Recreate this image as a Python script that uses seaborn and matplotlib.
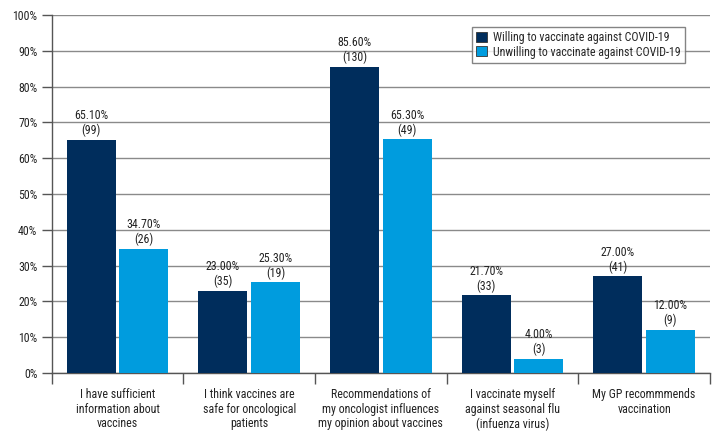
import pandas as pd
import seaborn as sns
import matplotlib.pyplot as plt
from matplotlib import font_manager
from matplotlib.ticker import PercentFormatter, FixedLocator

# Data
categories = [
    "I have sufficient\ninformation about\nvaccines",
    "I think vaccines are\nsafe for oncological\npatients",
    "Recommendations of\nmy oncologist influences\nmy opinion about vaccines",
    "I vaccinate myself\nagainst seasonal flu\n(infuenza virus)",
    "My GP recommmends\nvaccination",
]
series = ["Willing to vaccinate against COVID-19",
          "Unwilling to vaccinate against COVID-19"]
willing_pct = [65.1, 23.0, 85.6, 21.7, 27.0]
willing_n = [99, 35, 130, 33, 41]
unwilling_pct = [34.7, 25.3, 65.3, 4.0, 12.0]
unwilling_n = [26, 19, 49, 3, 9]

colors = ["#002D5C", "#009CDE"]

df = pd.DataFrame({
    "Category": categories * 2,
    "Group": [series[0]] * 5 + [series[1]] * 5,
    "Percent": willing_pct + unwilling_pct,
    "N": willing_n + unwilling_n,
})

sns.set_style("white")
installed = {f.name for f in font_manager.fontManager.ttflist}
narrow = [n for n in ["Roboto Condensed", "Liberation Sans Narrow",
                      "Open Sans Condensed", "Noto Sans Condensed"] if n in installed]
plt.rcParams["font.family"] = narrow + ["Liberation Sans", "DejaVu Sans"]
fs = 8.6 if narrow else 8.0

fig = plt.figure(figsize=(7.2, 4.32), dpi=100)
ax = fig.add_axes([0.072, 0.1366, 0.914, 0.8284])

sns.barplot(data=df, x="Category", y="Percent", hue="Group",
            palette=colors, width=0.8, gap=0.07, saturation=1,
            edgecolor="none", ax=ax, zorder=3)

# Value labels above each bar
for cont, pcts, ns in zip(ax.containers, [willing_pct, unwilling_pct],
                          [willing_n, unwilling_n]):
    labels = [f"{p:.2f}%\n({n})" for p, n in zip(pcts, ns)]
    ax.bar_label(cont, labels=labels, padding=2, fontsize=fs,
                 color="#222222", linespacing=1.15)

ax.set_ylim(0, 100)
ax.set_xlim(-0.5, 4.5)
ax.set_yticks(range(0, 101, 10))
ax.yaxis.set_major_formatter(PercentFormatter(decimals=0))
ax.yaxis.grid(True, color="#8a8a8a", linewidth=1, zorder=0)
ax.set_axisbelow(True)

# Category separators as minor ticks below the axis
ax.xaxis.set_minor_locator(FixedLocator([-0.5, 0.5, 1.5, 2.5, 3.5, 4.5]))
ax.tick_params(axis="x", which="minor", length=8, width=1, color="#555555",
               direction="out", bottom=True)
ax.tick_params(axis="x", which="major", length=0, pad=11, labelsize=fs,
               labelcolor="#222222")
ax.tick_params(axis="y", which="major", length=7, width=1, color="#555555",
               direction="out", left=True, labelsize=fs, labelcolor="#222222")
for lbl in ax.get_xticklabels():
    lbl.set_multialignment("center")
    lbl.set_linespacing(1.15)

for side in ["top", "right"]:
    ax.spines[side].set_visible(False)
for side in ["left", "bottom"]:
    ax.spines[side].set_color("#555555")
    ax.spines[side].set_linewidth(1)

ax.set_xlabel("")
ax.set_ylabel("")

leg = ax.legend(loc="upper right", bbox_to_anchor=(0.962, 0.968),
                frameon=True, fancybox=False, fontsize=fs,
                handlelength=0.9, handleheight=0.9, handletextpad=0.5,
                borderpad=0.35, labelspacing=0.15, borderaxespad=0)
leg.get_frame().set_edgecolor("#666666")
leg.get_frame().set_linewidth(1)
for h in leg.legend_handles:
    h.set_edgecolor("#333333")
    h.set_linewidth(0.6)

fig.savefig("out.png", dpi=100)
